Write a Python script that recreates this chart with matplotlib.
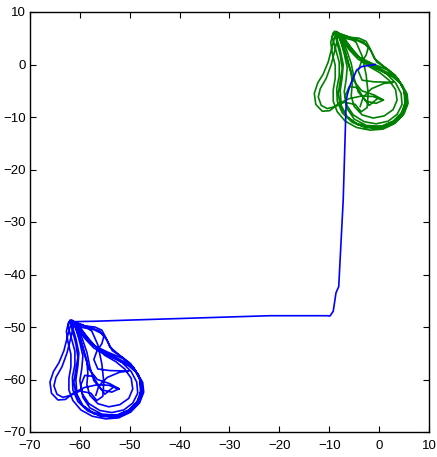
import matplotlib
matplotlib.use("Agg")
import matplotlib.pyplot as plt

# Green trajectory
green_path = [
    (-9.2, 6.0), (-8.0, 5.6), (-7.0, 4.2), (-5.8, 2.6), (-4.2, 1.0), (-2.0, -0.2), (0.5, -1.2), (2.8, -2.4),
    (4.5, -3.8), (5.6, -5.6), (5.8, -7.4), (5.0, -9.4), (3.2, -11.2), (0.8, -12.3), (-1.8, -12.5), (-4.5, -12.0),
    (-6.8, -10.8), (-8.4, -9.0), (-9.2, -7.0), (-9.2, -4.8), (-8.8, -2.6), (-8.8, -0.2), (-9.4, 2.2), (-9.7, 4.2),
    (-9.3, 5.8),
    (-8.4, 5.9), (-6.5, 4.9), (-4.2, 4.5), (-2.5, 3.7), (-1.5, 2.4), (-0.5, 0.5), (1.8, -1.0), (3.8, -2.8),
    (5.0, -4.8), (5.3, -7.0), (4.5, -9.2), (2.8, -10.8), (0.5, -11.8), (-2.0, -11.9), (-4.6, -11.2), (-6.6, -9.8),
    (-7.8, -7.8), (-8.2, -5.5), (-7.8, -3.2), (-7.4, -0.8), (-7.8, 1.8), (-8.4, 4.0), (-8.8, 5.6),
    (-9.4, 3.5), (-10.2, 0.5), (-11.2, -1.8), (-12.3, -3.5), (-13.0, -5.5), (-12.7, -7.6), (-11.4, -8.9),
    (-9.9, -8.8), (-8.2, -7.5), (-6.0, -6.5), (-3.5, -6.0), (-1.2, -6.1), (0.8, -6.8), (-0.6, -7.4), (-2.6, -7.0),
    (-4.2, -5.2), (-5.0, -2.6), (-5.6, 0.2), (-6.6, 3.0), (-7.6, 5.2), (-8.6, 6.3),
    (-7.8, 5.8), (-6.2, 3.8), (-4.8, 2.0), (-3.0, 0.6), (-0.8, -0.6), (1.5, -1.8), (3.3, -3.5), (4.4, -5.5),
    (4.6, -7.6), (3.6, -9.5), (1.8, -10.8), (-0.6, -11.3), (-3.0, -10.9), (-5.2, -9.6), (-6.6, -7.6), (-7.0, -5.2),
    (-6.6, -2.8), (-6.4, -0.5), (-7.0, 2.0), (-7.6, 4.2), (-8.2, 5.9),
    (-7.0, 5.5), (-4.6, 4.8), (-3.0, 4.2), (-2.2, 3.2), (-2.6, 1.8), (-3.6, 0.4), (-4.2, -1.2), (-3.4, -3.0),
    (-1.0, -3.3), (2.8, -3.4), (1.0, -3.6), (-1.5, -4.6), (-3.2, -6.2), (-2.0, -7.8), (-0.2, -6.4), (0.9, -6.8),
    (-1.0, -5.8), (-3.5, -5.0), (-5.2, -3.0), (-6.0, -0.5), (-6.8, 2.5), (-7.8, 5.2), (-8.8, 6.3),
    (-8.2, 5.8), (-6.8, 4.0), (-5.2, 2.2), (-3.2, 0.8), (-0.6, -0.4), (2.2, -1.8), (4.2, -3.4), (5.4, -5.4),
    (5.6, -7.6), (4.6, -9.8), (2.6, -11.4), (0.0, -12.2), (-2.8, -12.0), (-5.4, -11.0), (-7.4, -9.2), (-8.4, -7.0),
    (-8.5, -4.6), (-8.0, -2.2), (-8.0, 0.4), (-8.8, 3.2), (-9.4, 5.2), (-9.0, 6.3),
    (-7.2, 5.2), (-5.6, 3.2), (-4.0, 1.4), (-2.0, -0.4), (0.2, -1.6), (2.0, -3.0), (3.3, -4.8), (3.6, -6.8),
    (2.8, -8.6), (1.0, -9.8), (-1.2, -10.2), (-3.4, -9.6), (-5.0, -8.0), (-5.6, -6.0), (-5.4, -3.8), (-5.6, -1.5),
    (-6.4, 1.2), (-7.4, 3.6), (-8.2, 5.6),
    (-8.8, 3.0), (-9.6, 0.0), (-10.6, -2.6), (-11.8, -4.6), (-12.2, -6.2), (-11.6, -7.8), (-10.4, -8.4),
    (-8.8, -8.0), (-7.0, -7.2), (-4.8, -7.6), (-3.6, -9.0), (-2.4, -8.2), (-2.2, -5.5), (-2.6, -2.0),
    (-3.4, 1.6), (-4.6, 4.2), (-6.4, 5.4), (-8.6, 6.1),
    (-7.4, 4.8), (-6.0, 3.0), (-4.0, 1.4), (-1.4, 0.2), (1.6, -1.0), (3.8, -2.8), (5.0, -5.0), (5.2, -7.8),
    (4.0, -10.2), (1.6, -11.7), (-1.4, -12.0), (-4.2, -11.5), (-6.4, -10.0), (-7.6, -7.8), (-7.8, -5.0),
    (-7.4, -2.4), (-7.2, 0.0), (-7.8, 2.8), (-8.6, 5.4),
    (-8.0, 5.6), (-6.0, 5.2), (-4.0, 5.0), (-2.6, 4.4), (-1.8, 3.0), (-1.0, 1.2), (1.0, -0.4), (3.2, -2.0),
    (4.8, -4.2), (5.4, -6.6), (4.8, -9.0), (3.0, -10.8), (0.4, -11.8), (-2.6, -11.6), (-5.0, -10.4),
    (-6.4, -8.4), (-6.8, -6.0), (-6.0, -4.2), (-4.4, -4.4), (-3.2, -6.2), (-3.8, -8.0),
]

# Blue connecting path (from the green cluster down and across)
blue_link = [
    (-0.8, 0.0), (-2.2, -0.2), (-3.5, -0.4), (-4.5, -1.05), (-5.2, -2.6), (-5.8, -3.9), (-6.3, -5.5),
    (-6.6, -6.8), (-7.2, -25.8), (-8.1, -42.3), (-8.65, -43.5), (-9.2, -47.0), (-9.85, -47.9),
    (-10.5, -47.85), (-21.9, -47.85), (-37.3, -48.3), (-50.6, -48.7), (-56.8, -48.9), (-62.0, -49.0),
]

# Blue trajectory loops
blue_path = [
    (-62.2, -49.0), (-61.0, -49.4), (-60.0, -50.8), (-58.8, -52.4), (-57.2, -54.0), (-55.0, -55.2),
    (-52.5, -56.2), (-50.2, -57.4), (-48.5, -58.8), (-47.4, -60.6), (-47.2, -62.4), (-48.0, -64.4),
    (-49.8, -66.2), (-52.2, -67.3), (-54.8, -67.5), (-57.5, -67.0), (-59.8, -65.8), (-61.4, -64.0),
    (-62.2, -62.0), (-62.2, -59.8), (-61.8, -57.6), (-61.8, -55.2), (-62.4, -52.8), (-62.7, -50.8),
    (-62.3, -49.2),
    (-61.4, -49.1), (-59.5, -50.1), (-57.2, -50.5), (-55.5, -51.3), (-54.5, -52.6), (-53.5, -54.5),
    (-51.2, -56.0), (-49.2, -57.8), (-48.0, -59.8), (-47.7, -62.0), (-48.5, -64.2), (-50.2, -65.8),
    (-52.5, -66.8), (-55.0, -66.9), (-57.6, -66.2), (-59.6, -64.8), (-60.8, -62.8), (-61.2, -60.5),
    (-60.8, -58.2), (-60.4, -55.8), (-60.8, -53.2), (-61.4, -51.0), (-61.8, -49.4),
    (-62.4, -51.5), (-63.2, -54.5), (-64.2, -56.8), (-65.3, -58.5), (-66.0, -60.5), (-65.7, -62.6),
    (-64.4, -63.9), (-62.9, -63.8), (-61.2, -62.5), (-59.0, -61.5), (-56.5, -61.0), (-54.2, -61.1),
    (-52.2, -61.8), (-53.6, -62.4), (-55.6, -62.0), (-57.2, -60.2), (-58.0, -57.6), (-58.6, -54.8),
    (-59.6, -52.0), (-60.6, -49.8), (-61.6, -48.7),
    (-60.8, -49.2), (-59.2, -51.2), (-57.8, -53.0), (-56.0, -54.4), (-53.8, -55.6), (-51.5, -56.8),
    (-49.7, -58.5), (-48.6, -60.5), (-48.4, -62.6), (-49.4, -64.5), (-51.2, -65.8), (-53.6, -66.3),
    (-56.0, -65.9), (-58.2, -64.6), (-59.6, -62.6), (-60.0, -60.2), (-59.6, -57.8), (-59.4, -55.5),
    (-60.0, -53.0), (-60.6, -50.8), (-61.2, -49.1),
    (-60.0, -49.5), (-57.6, -50.2), (-56.0, -50.8), (-55.2, -51.8), (-55.6, -53.2), (-56.6, -54.6),
    (-57.2, -56.2), (-56.4, -58.0), (-54.0, -58.3), (-50.2, -58.4), (-52.0, -58.6), (-54.5, -59.6),
    (-56.2, -61.2), (-55.0, -62.8), (-53.2, -61.4), (-52.1, -61.8), (-54.0, -60.8), (-56.5, -60.0),
    (-58.2, -58.0), (-59.0, -55.5), (-59.8, -52.5), (-60.8, -49.8), (-61.8, -48.7),
    (-61.2, -49.2), (-59.8, -51.0), (-58.2, -52.8), (-56.2, -54.2), (-53.6, -55.4), (-50.8, -56.8),
    (-48.8, -58.4), (-47.6, -60.4), (-47.4, -62.6), (-48.4, -64.8), (-50.4, -66.4), (-53.0, -67.2),
    (-55.8, -67.0), (-58.4, -66.0), (-60.4, -64.2), (-61.4, -62.0), (-61.5, -59.6), (-61.0, -57.2),
    (-61.0, -54.6), (-61.8, -51.8), (-62.4, -49.8), (-62.0, -48.7),
    (-60.2, -49.8), (-58.6, -51.8), (-57.0, -53.6), (-55.0, -55.4), (-52.8, -56.6), (-51.0, -58.0),
    (-49.7, -59.8), (-49.4, -61.8), (-50.2, -63.6), (-52.0, -64.8), (-54.2, -65.2), (-56.4, -64.6),
    (-58.0, -63.0), (-58.6, -61.0), (-58.4, -58.8), (-58.6, -56.5), (-59.4, -53.8), (-60.4, -51.4),
    (-61.2, -49.4),
    (-61.8, -52.0), (-62.6, -55.0), (-63.6, -57.6), (-64.8, -59.6), (-65.2, -61.2), (-64.6, -62.8),
    (-63.4, -63.4), (-61.8, -63.0), (-60.0, -62.2), (-57.8, -62.6), (-56.6, -64.0), (-55.4, -63.2),
    (-55.2, -60.5), (-55.6, -57.0), (-56.4, -53.4), (-57.6, -50.8), (-59.4, -49.6), (-61.6, -48.9),
    (-60.4, -50.2), (-59.0, -52.0), (-57.0, -53.6), (-54.4, -54.8), (-51.4, -56.0), (-49.2, -57.8),
    (-48.0, -60.0), (-47.8, -62.8), (-49.0, -65.2), (-51.4, -66.7), (-54.4, -67.0), (-57.2, -66.5),
    (-59.4, -65.0), (-60.6, -62.8), (-60.8, -60.0), (-60.4, -57.4), (-60.2, -55.0), (-60.8, -52.2),
    (-61.6, -49.6),
    (-61.0, -49.4), (-59.0, -49.8), (-57.0, -50.0), (-55.6, -50.6), (-54.8, -52.0), (-54.0, -53.8),
    (-52.0, -55.4), (-49.8, -57.0), (-48.2, -59.2), (-47.6, -61.6), (-48.2, -64.0), (-50.0, -65.8),
    (-52.6, -66.8), (-55.6, -66.6), (-58.0, -65.4), (-59.4, -63.4), (-59.8, -61.0), (-59.0, -59.2),
    (-57.4, -59.4), (-56.2, -61.2), (-56.8, -63.0),
]

x_ticks = [-70, -60, -50, -40, -30, -20, -10, 0, 10]
y_ticks = [10, 0, -10, -20, -30, -40, -50, -60, -70]

plt.rcParams['font.family'] = ['Liberation Sans', 'DejaVu Sans']

fig = plt.figure(figsize=(4.37, 4.57), dpi=100)
ax = fig.add_axes([30 / 437, 25 / 457, 399 / 437, 420 / 457])

gx, gy = zip(*green_path)
ax.plot(gx, gy, color='#008000', lw=1.2, solid_joinstyle='round')
lx, ly = zip(*(blue_link + blue_path))
ax.plot(lx, ly, color='#0000ff', lw=1.2, solid_joinstyle='round')

ax.set_xlim(-70, 10)
ax.set_ylim(-70, 10)
ax.set_xticks(x_ticks)
ax.set_yticks(y_ticks)
ax.tick_params(direction='in', top=True, right=True, length=4, width=0.8,
               labelsize=9.5)
ax.tick_params(axis='x', pad=6)
ax.tick_params(axis='y', pad=3)
for s in ax.spines.values():
    s.set_linewidth(1.0)

fig.savefig('out.png', dpi=100)
